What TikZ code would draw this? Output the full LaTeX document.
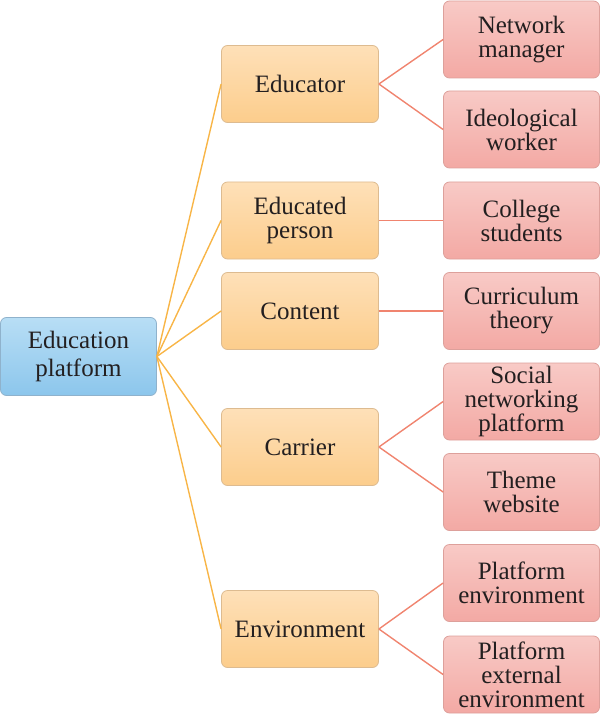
\documentclass[tikz,border=0pt]{standalone}
\usepackage{fontspec}
\setmainfont{Liberation Serif}
\definecolor{rootTop}{HTML}{B8DEF5}
\definecolor{rootBot}{HTML}{8CC6EC}
\definecolor{rootLine}{HTML}{8FB2CC}
\definecolor{orTop}{HTML}{FEE0B8}
\definecolor{orBot}{HTML}{FCCD8C}
\definecolor{orLine}{HTML}{DDBB90}
\definecolor{pkTop}{HTML}{F8CAC6}
\definecolor{pkBot}{HTML}{F3A9A4}
\definecolor{pkLine}{HTML}{DDA09B}
\definecolor{linkA}{HTML}{F8B547}
\definecolor{linkB}{HTML}{F0846F}
\definecolor{txt}{HTML}{231F20}
\tikzset{
  box/.style={rectangle, rounded corners=6pt, line width=0.8pt, align=center,
    text=txt, font=\fontsize{25}{24}\selectfont, inner sep=0pt},
  rootbox/.style={box, top color=rootTop, bottom color=rootBot, draw=rootLine,
    minimum width=156pt, minimum height=78pt, font=\fontsize{25}{28}\selectfont},
  midbox/.style={box, top color=orTop, bottom color=orBot, draw=orLine,
    minimum width=157pt, minimum height=77pt},
  leafbox/.style={box, top color=pkTop, bottom color=pkBot, draw=pkLine,
    minimum width=156pt, minimum height=77pt},
  linka/.style={draw=linkA, line width=1.4pt},
  linkb/.style={draw=linkB, line width=1.4pt}
}
\begin{document}
\begin{tikzpicture}[x=1pt,y=-1pt]
\useasboundingbox (0,0) rectangle (600,714);
\node[rootbox] (root) at (78.5,356.5) {Education\\platform};
\node[midbox] (m1) at (300,84) {Educator};
\node[midbox] (m2) at (300,220.5) {Educated\\person};
\node[midbox] (m3) at (300,311) {Content};
\node[midbox] (m4) at (300,447) {Carrier};
\node[midbox] (m5) at (300,629) {Environment};
\node[leafbox] (l1) at (521.5,39.5) {Network\\manager};
\node[leafbox] (l2) at (521.5,129.5) {Ideological\\worker};
\node[leafbox] (l3) at (521.5,220.5) {College\\students};
\node[leafbox] (l4) at (521.5,311) {Curriculum\\theory};
\node[leafbox] (l5) at (521.5,401.5) {Social\\networking\\platform};
\node[leafbox] (l6) at (521.5,492) {Theme\\website};
\node[leafbox] (l7) at (521.5,583) {Platform\\environment};
\node[leafbox] (l8) at (521.5,674.5) {Platform\\external\\environment};
\foreach \m in {m1,m2,m3,m4,m5}{\draw[linka] (root.east) -- (\m.west);}
\draw[linkb] (m1.east) -- (l1.west);
\draw[linkb] (m1.east) -- (l2.west);
\draw[linkb] (m2.east) -- (l3.west);
\draw[linkb] (m3.east) -- (l4.west);
\draw[linkb] (m4.east) -- (l5.west);
\draw[linkb] (m4.east) -- (l6.west);
\draw[linkb] (m5.east) -- (l7.west);
\draw[linkb] (m5.east) -- (l8.west);
\end{tikzpicture}
\end{document}
